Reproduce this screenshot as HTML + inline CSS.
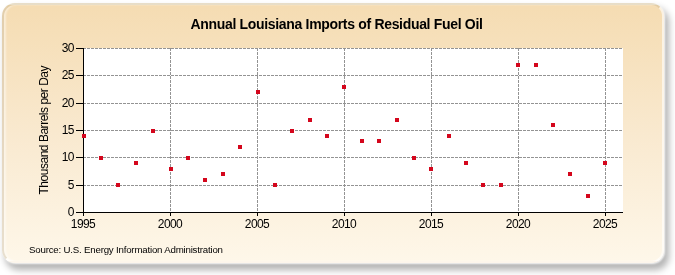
<!DOCTYPE html>
<html><head><meta charset="utf-8"><style>
html,body{margin:0;padding:0;width:675px;height:275px;overflow:hidden;background:#fff}
#frame{position:absolute;box-sizing:border-box;left:2px;top:3px;width:662px;height:260px;border-radius:13px;
border:2px solid;border-color:rgba(190,175,140,0.35) rgba(255,255,255,0.6) rgba(255,255,255,0.75) rgba(190,180,160,0.35);
background:linear-gradient(to bottom,#f5dcb2 0%,#f9e9cf 50%,#fef7e9 100%);
box-shadow:inset 2px 0 2px rgba(255,255,255,0.45),1px 1px 2px 0px rgba(255,255,255,0.9),4px 6px 7px 1px rgba(0,0,0,0.3)}
svg{position:absolute;left:0;top:0;will-change:transform}
text{font-family:"Liberation Sans",sans-serif;fill:#000}
.ax{font-size:12px;letter-spacing:-0.6px}
.ti{font-size:14px;font-weight:bold;letter-spacing:-0.32px}
.yl{font-size:12px;letter-spacing:-0.48px}
.src{font-size:9.7px;letter-spacing:-0.2px}
</style></head><body>
<div id="frame"></div>
<svg width="675" height="275" viewBox="0 0 675 275" shape-rendering="crispEdges">
<rect x="83" y="48" width="540" height="164" fill="#fff"/>
<path d="M83 185.5H623 M83 157.5H623 M83 130.5H623 M83 103.5H623 M83 75.5H623 M83 48.5H623 M170.5 48V212 M257.5 48V212 M344.5 48V212 M431.5 48V212 M518.5 48V212 M605.5 48V212" stroke="#939393" stroke-width="1" stroke-dasharray="3 1" fill="none"/>
<path d="M83.5 48V212.5 M83 212.5H623 M76 212.5H83 M76 185.5H83 M76 157.5H83 M76 130.5H83 M76 103.5H83 M76 75.5H83 M76 48.5H83 M83.5 212V216 M170.5 212V216 M257.5 212V216 M344.5 212V216 M431.5 212V216 M518.5 212V216 M605.5 212V216" stroke="#000" stroke-width="1" fill="none"/>
<rect x="82" y="134" width="4" height="4" fill="#d4061c"/>
<rect x="99" y="156" width="4" height="4" fill="#d4061c"/>
<rect x="116" y="183" width="4" height="4" fill="#d4061c"/>
<rect x="134" y="161" width="4" height="4" fill="#d4061c"/>
<rect x="151" y="129" width="4" height="4" fill="#d4061c"/>
<rect x="169" y="167" width="4" height="4" fill="#d4061c"/>
<rect x="186" y="156" width="4" height="4" fill="#d4061c"/>
<rect x="203" y="178" width="4" height="4" fill="#d4061c"/>
<rect x="221" y="172" width="4" height="4" fill="#d4061c"/>
<rect x="238" y="145" width="4" height="4" fill="#d4061c"/>
<rect x="256" y="90" width="4" height="4" fill="#d4061c"/>
<rect x="273" y="183" width="4" height="4" fill="#d4061c"/>
<rect x="290" y="129" width="4" height="4" fill="#d4061c"/>
<rect x="308" y="118" width="4" height="4" fill="#d4061c"/>
<rect x="325" y="134" width="4" height="4" fill="#d4061c"/>
<rect x="342" y="85" width="4" height="4" fill="#d4061c"/>
<rect x="360" y="139" width="4" height="4" fill="#d4061c"/>
<rect x="377" y="139" width="4" height="4" fill="#d4061c"/>
<rect x="395" y="118" width="4" height="4" fill="#d4061c"/>
<rect x="412" y="156" width="4" height="4" fill="#d4061c"/>
<rect x="429" y="167" width="4" height="4" fill="#d4061c"/>
<rect x="447" y="134" width="4" height="4" fill="#d4061c"/>
<rect x="464" y="161" width="4" height="4" fill="#d4061c"/>
<rect x="481" y="183" width="4" height="4" fill="#d4061c"/>
<rect x="499" y="183" width="4" height="4" fill="#d4061c"/>
<rect x="516" y="63" width="4" height="4" fill="#d4061c"/>
<rect x="534" y="63" width="4" height="4" fill="#d4061c"/>
<rect x="551" y="123" width="4" height="4" fill="#d4061c"/>
<rect x="568" y="172" width="4" height="4" fill="#d4061c"/>
<rect x="586" y="194" width="4" height="4" fill="#d4061c"/>
<rect x="603" y="161" width="4" height="4" fill="#d4061c"/>
<text x="73" y="216.0" text-anchor="end" class="ax" dx="0.8">0</text>
<text x="73" y="188.7" text-anchor="end" class="ax" dx="0.8">5</text>
<text x="73" y="161.3" text-anchor="end" class="ax" dx="0.8">10</text>
<text x="73" y="134.0" text-anchor="end" class="ax" dx="0.8">15</text>
<text x="73" y="106.7" text-anchor="end" class="ax" dx="0.8">20</text>
<text x="73" y="79.3" text-anchor="end" class="ax" dx="0.8">25</text>
<text x="73" y="52.0" text-anchor="end" class="ax" dx="0.8">30</text>
<text x="83.0" y="228" text-anchor="middle" class="ax">1995</text>
<text x="170.0" y="228" text-anchor="middle" class="ax">2000</text>
<text x="257.0" y="228" text-anchor="middle" class="ax">2005</text>
<text x="344.0" y="228" text-anchor="middle" class="ax">2010</text>
<text x="431.0" y="228" text-anchor="middle" class="ax">2015</text>
<text x="518.0" y="228" text-anchor="middle" class="ax">2020</text>
<text x="605.0" y="228" text-anchor="middle" class="ax">2025</text>
<text x="336.5" y="29" text-anchor="middle" class="ti">Annual Louisiana Imports of Residual Fuel Oil</text>
<text transform="translate(47.5,130.2) rotate(-90)" text-anchor="middle" class="yl">Thousand Barrels per Day</text>
<text x="29" y="253" class="src">Source: U.S. Energy Information Administration</text>
</svg>
</body></html>
